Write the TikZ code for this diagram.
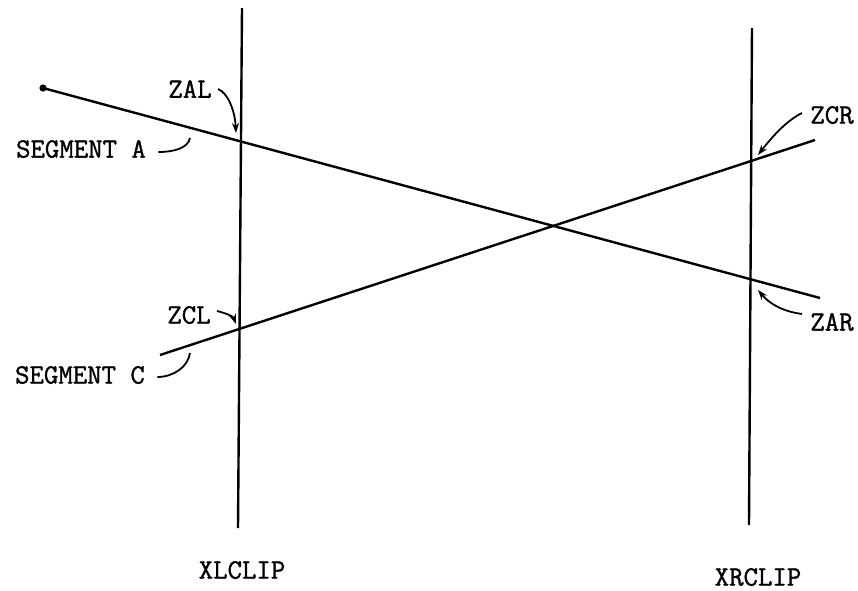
\documentclass[tikz,border=0pt]{standalone}
\usepackage{fontspec}
\setmonofont[FakeBold=1.2]{Latin Modern Mono}
\usepackage{tikz}
\usetikzlibrary{arrows.meta}

\begin{document}
\begin{tikzpicture}[x=0.5pt,y=-0.5pt,
  lbl/.style={font=\ttfamily\fontsize{14}{16}\selectfont,inner sep=0pt},
  seg/.style={line width=1.2pt},
  leader/.style={line width=0.9pt,-{Stealth[length=5pt,width=3.5pt]}},
  hook/.style={line width=0.9pt}]
  \useasboundingbox (0,0) rectangle (858,590);
  % clip boundaries
  \coordinate (xlT) at (242,8);   \coordinate (xlB) at (238,528);
  \coordinate (xrT) at (752,28);  \coordinate (xrB) at (749,525);
  % the two segments
  \coordinate (aL) at (43,88);    \coordinate (aR) at (820,298);
  \coordinate (cL) at (160,355);  \coordinate (cR) at (815,140);
  \draw[seg] (xlT) -- (xlB);
  \draw[seg] (xrT) -- (xrB);
  \draw[seg] (aR) -- (aL);
  \fill (aL) circle (1.8pt);
  \draw[seg] (cL) -- (cR);
  % labels
  \node[lbl] (zal) at (190,89) {ZAL};
  \node[lbl] (sega) at (81,149) {SEGMENT A};
  \node[lbl] (zcl) at (189,315) {ZCL};
  \node[lbl] (segc) at (80,375) {SEGMENT C};
  \node[lbl] (zcr) at (832,115) {ZCR};
  \node[lbl] (zar) at (832,322) {ZAR};
  \node[lbl] (xlclip) at (242,570) {XLCLIP};
  \node[lbl] (xrclip) at (758,577) {XRCLIP};
  % leaders
  \coordinate (zalTip) at (236,133);
  \coordinate (segaEnd) at (190,138);
  \coordinate (zclTip) at (236,324);
  \coordinate (segcEnd) at (190,353);
  \coordinate (zcrTip) at (758,155);
  \coordinate (zarTip) at (758,290);
  \draw[leader] ([xshift=3pt]zal.east) .. controls +(10,4) and +(-1,-22) .. (zalTip);
  \draw[hook] ([xshift=6pt,yshift=-1.5pt]sega.east) .. controls +(16,0) and +(-2,10) .. (segaEnd);
  \draw[leader] ([xshift=3pt,yshift=2pt]zcl.east) .. controls +(8,2) and +(-3,-8) .. (zclTip);
  \draw[hook] ([xshift=6pt,yshift=-1pt]segc.east) .. controls +(16,0) and +(-2,14) .. (segcEnd);
  \draw[leader] ([xshift=-4pt,yshift=1pt]zcr.west) .. controls +(-16,8) and +(14,-18) .. (zcrTip);
  \draw[leader] ([xshift=-4pt,yshift=4pt]zar.west) .. controls +(-22,-3) and +(10,12) .. (zarTip);
\end{tikzpicture}
\end{document}
